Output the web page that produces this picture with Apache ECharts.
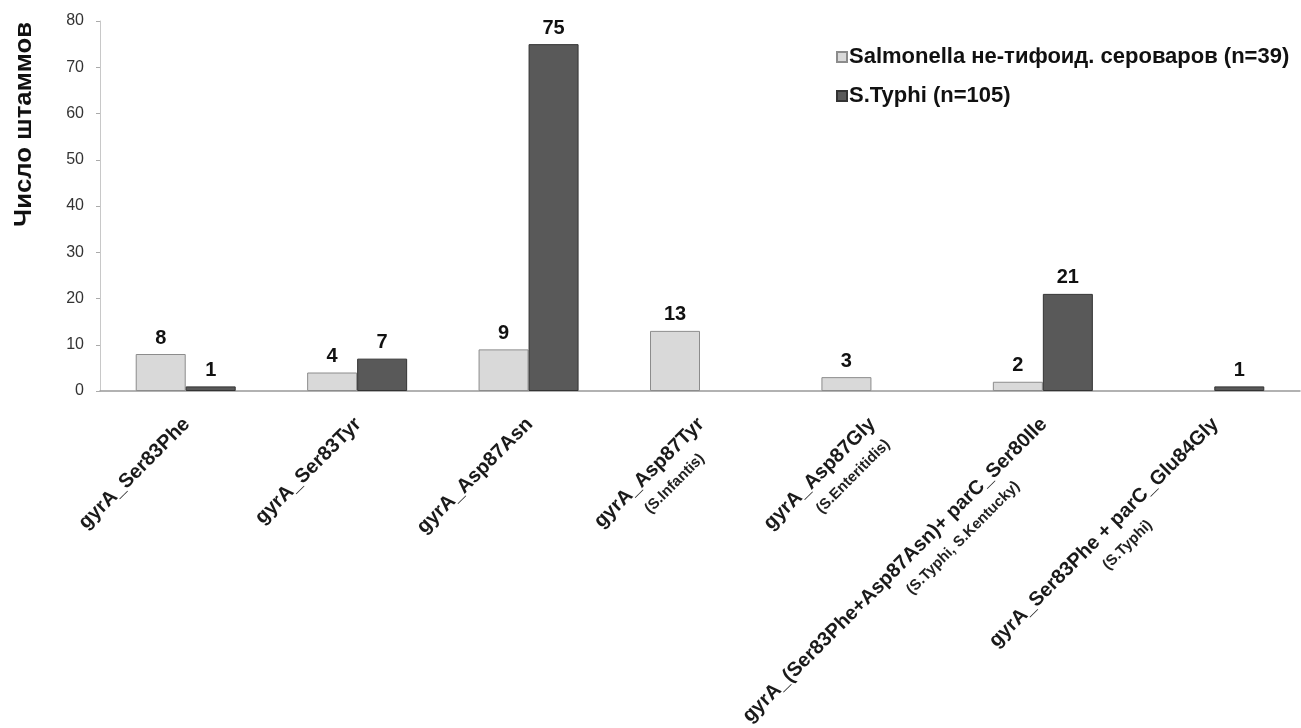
<!DOCTYPE html>
<html>
<head>
<meta charset="utf-8">
<script src="https://cdn.jsdelivr.net/npm/echarts@6/dist/echarts.min.js"></script>
<style>
  html, body { margin: 0; padding: 0; background: #fff; }
  #chart { width: 1301px; height: 728px; }
</style>
</head>
<body>
<div id="chart"></div>
<script>
// mutation names (first line) and serovar notes (second line)
var mutations = [
    'gyrA_Ser83Phe',
    'gyrA_Ser83Tyr',
    'gyrA_Asp87Asn',
    'gyrA_Asp87Tyr',
    'gyrA_Asp87Gly',
    'gyrA_(Ser83Phe+Asp87Asn)+ parC_Ser80Ile',
    'gyrA_Ser83Phe + parC_Glu84Gly'
];
var serovars = ['', '', '', '(S.Infantis)', '(S.Enteritidis)', '(S.Typhi, S.Kentucky)', '(S.Typhi)'];

var nonTyphoid = [8, 4, 9, 13, 3, 2, null];
var typhi = [1, 7, 75, null, null, 21, 1];

var yTicks = [0, 80, 10]; // min, max, step

var font = '"Liberation Sans", Arial, sans-serif';

// how far each second line sits back from the end of the first line
var subShift = [0, 0, 0, 24, 4, 63, 118];

var rich = {
    a: {fontFamily: font, fontSize: 20, fontWeight: 'bold', color: '#1a1a1a', lineHeight: 23}
};
subShift.forEach(function (s, i) {
    rich['b' + i] = {fontFamily: font, fontSize: 15, fontWeight: 'bold', color: '#222', lineHeight: 28, padding: [0, s, 0, 0]};
});

var chart = echarts.init(document.getElementById('chart'));

chart.setOption({
    animation: false,
    backgroundColor: '#fff',
    textStyle: {fontFamily: font},
    grid: {left: 100, right: 1, top: 21, bottom: 337, containLabel: false, outerBoundsMode: 'none'},
    legend: {
        orient: 'vertical',
        left: 831,
        top: 41,
        itemGap: 17,
        itemWidth: 10,
        itemHeight: 10,
        icon: 'rect',
        textStyle: {fontFamily: font, fontSize: 22, fontWeight: 'bold', color: '#111', padding: [0, 0, 0, -3]},
        data: ['Salmonella не-тифоид. сероваров (n=39)', 'S.Typhi (n=105)']
    },
    graphic: [{
        type: 'text',
        left: 13,
        top: 22,
        rotation: Math.PI / 2,
        scaleX: 1.12,
        style: {
            text: 'Число штаммов',
            font: 'bold 23px ' + font,
            fill: '#111'
        }
    }],
    xAxis: {
        type: 'category',
        data: mutations,
        axisLine: {lineStyle: {color: '#999', width: 1.5}},
        axisTick: {show: false},
        axisLabel: {
            interval: 0,
            rotate: 45,
            margin: 15,
            padding: [0, 10, 0, 0],
            verticalAlign: 'top',
            formatter: function (v, i) {
                return serovars[i] ? '{a|' + v + '}\n{b' + i + '|' + serovars[i] + '}' : '{a|' + v + '}';
            },
            rich: rich
        }
    },
    yAxis: {
        type: 'value',
        min: yTicks[0],
        max: yTicks[1],
        interval: yTicks[2],
        splitLine: {show: false},
        axisLine: {show: true, lineStyle: {color: '#c8c8c8'}},
        axisTick: {show: true, length: 4, lineStyle: {color: '#aaa'}},
        axisLabel: {fontFamily: font, fontSize: 16, color: '#333', margin: 16}
    },
    series: [
        {
            name: 'Salmonella не-тифоид. сероваров (n=39)',
            type: 'bar',
            data: nonTyphoid,
            barWidth: 50,
            barGap: '0%',
            itemStyle: {color: '#d9d9d9', borderColor: '#8c8c8c', borderWidth: 1},
            label: {show: true, position: 'top', distance: 6, fontFamily: font, fontSize: 20, fontWeight: 'bold', color: '#111'}
        },
        {
            name: 'S.Typhi (n=105)',
            type: 'bar',
            data: typhi,
            barWidth: 50,
            barGap: '0%',
            itemStyle: {color: '#595959', borderColor: '#333', borderWidth: 1},
            label: {show: true, position: 'top', distance: 6, fontFamily: font, fontSize: 20, fontWeight: 'bold', color: '#111'}
        }
    ]
});
</script>
</body>
</html>
